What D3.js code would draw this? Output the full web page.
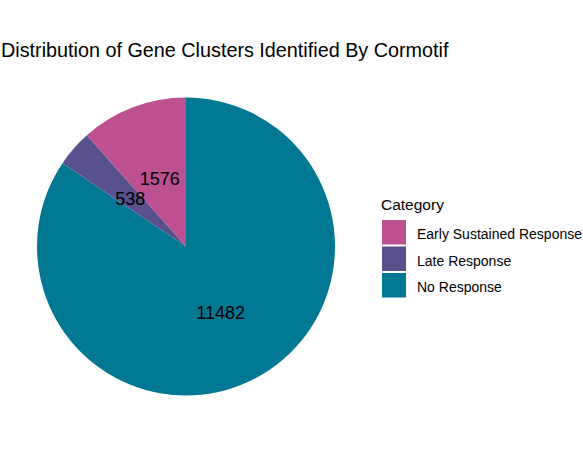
<!DOCTYPE html>
<html>
<head>
<meta charset="utf-8">
<script src="https://cdn.jsdelivr.net/npm/d3@7"></script>
<style>
  body { margin: 0; background: #fff; }
  text { font-family: "Liberation Sans", Arial, sans-serif; }
</style>
</head>
<body>
<div id="chart"></div>
<script>
var categories = ["Early Sustained Response", "Late Response", "No Response"];
var counts = [1576, 538, 11482];
var colours = ["#BC5090", "#58508D", "#007894"];

// drawing order clockwise from 12 o'clock, like the ggplot stack
var drawOrder = ["No Response", "Late Response", "Early Sustained Response"];

var width = 583, height = 466;
var cx = 186, cy = 246.5, radius = 149, labelRadius = 74;

var svg = d3.select("#chart").append("svg")
    .attr("width", width)
    .attr("height", height);

var colour = d3.scaleOrdinal().domain(categories).range(colours);

var rows = drawOrder.map(function(c) {
    return { cat: c, n: counts[categories.indexOf(c)] };
});

var pie = d3.pie()
    .value(function(d) { return d.n; })
    .sort(null);

var arc = d3.arc().innerRadius(0).outerRadius(radius);
var labelArc = d3.arc().innerRadius(labelRadius).outerRadius(labelRadius);

var g = svg.append("g").attr("transform", "translate(" + cx + "," + cy + ")");

var slices = pie(rows);

g.selectAll("path.slice")
    .data(slices)
    .enter().append("path")
    .attr("class", "slice")
    .attr("d", arc)
    .attr("fill", function(d) { return colour(d.data.cat); });

g.selectAll("text.lbl")
    .data(slices)
    .enter().append("text")
    .attr("class", "lbl")
    .attr("transform", function(d) { return "translate(" + labelArc.centroid(d) + ")"; })
    .attr("text-anchor", "middle")
    .attr("dy", "0.42em")
    .attr("font-size", 18)
    .attr("fill", "#000")
    .text(function(d) { return d.data.n; });

// title
svg.append("text")
    .attr("x", 1)
    .attr("y", 57)
    .attr("font-size", 19.8)
    .attr("fill", "#000")
    .text("Distribution of Gene Clusters Identified By Cormotif");

// legend
var legend = svg.append("g").attr("transform", "translate(382,0)");

legend.append("text")
    .attr("x", -1)
    .attr("y", 210)
    .attr("font-size", 15.5)
    .attr("fill", "#000")
    .text("Category");

var keys = legend.selectAll("g.key")
    .data(categories)
    .enter().append("g")
    .attr("class", "key")
    .attr("transform", function(d, i) { return "translate(0," + (220 + i * 26.5) + ")"; });

keys.append("rect")
    .attr("width", 24)
    .attr("height", 24.5)
    .attr("fill", function(d) { return colour(d); });

keys.append("text")
    .attr("x", 35)
    .attr("y", 14)
    .attr("dy", "0.36em")
    .attr("font-size", 14)
    .attr("fill", "#000")
    .text(function(d) { return d; });
</script>
</body>
</html>
